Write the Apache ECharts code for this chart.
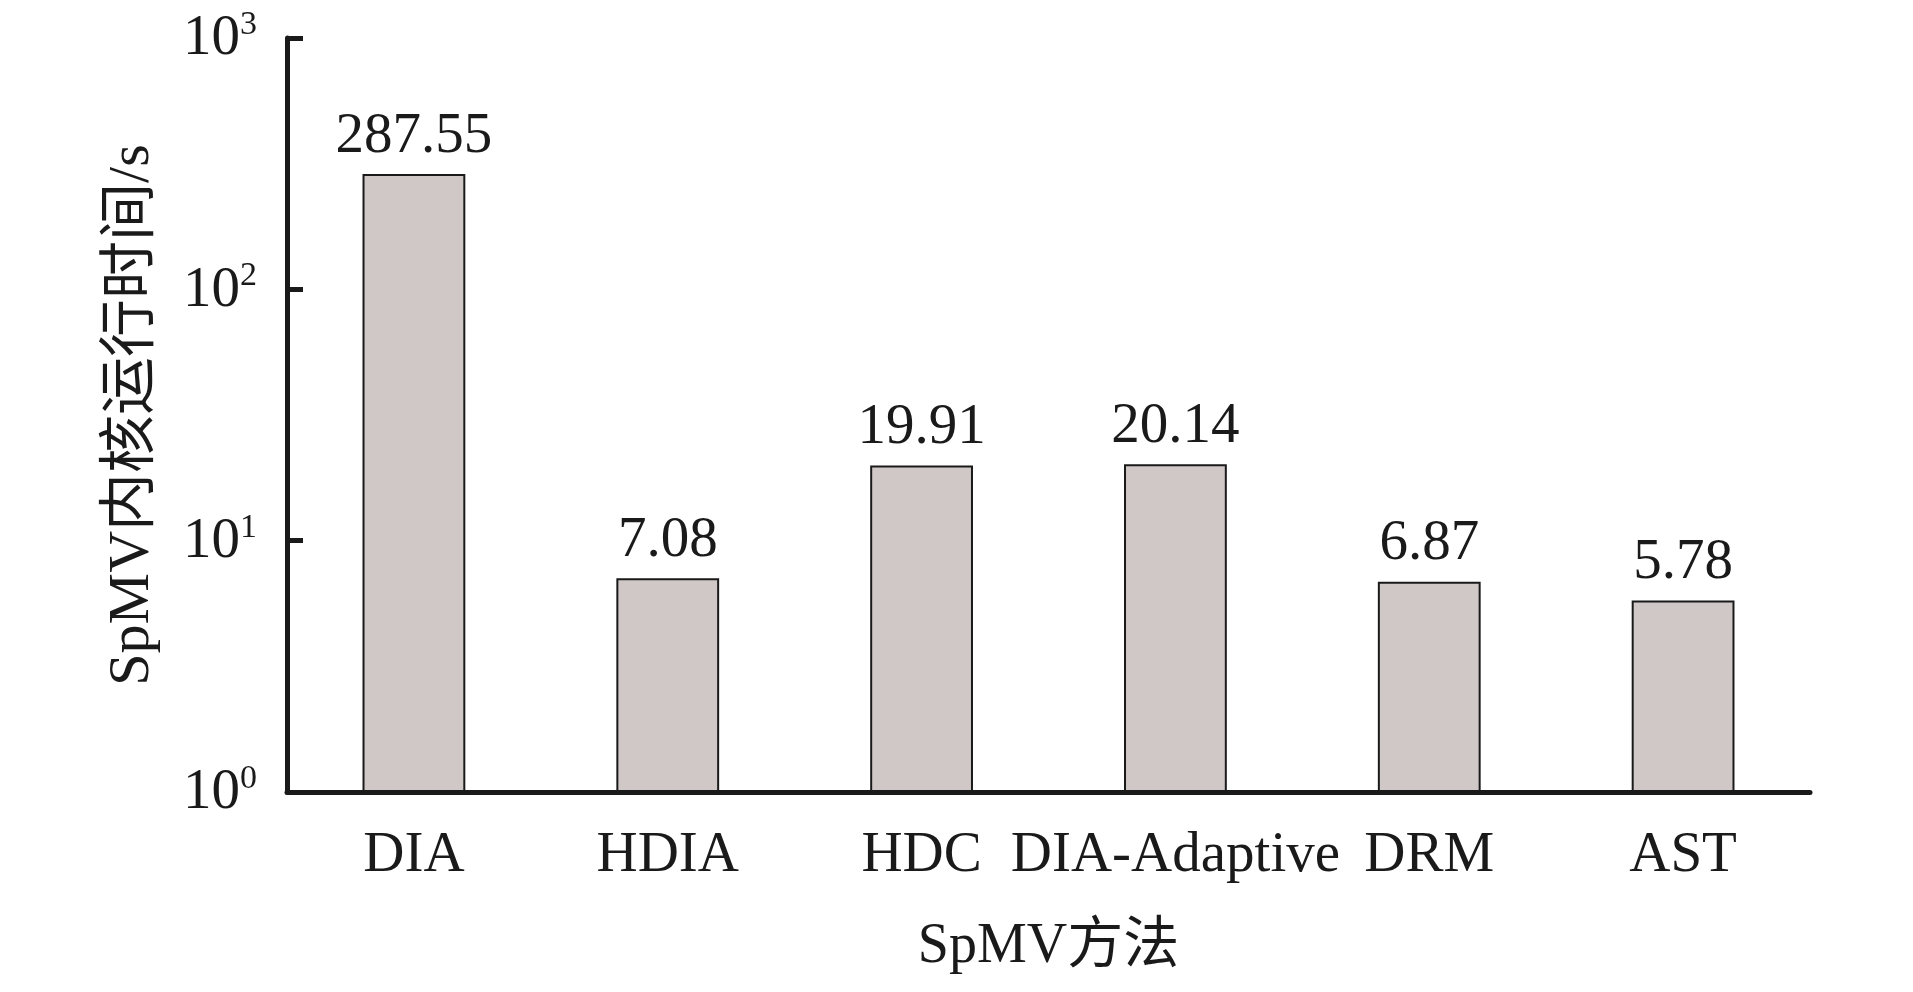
<!DOCTYPE html>
<html>
<head>
<meta charset="utf-8">
<script src="https://cdn.jsdelivr.net/npm/echarts@6/dist/echarts.min.js"></script>
<style>
html,body{margin:0;padding:0;background:#fff;}
#chart{width:1913px;height:992px;}
</style>
</head>
<body>
<div id="chart"></div>
<script>
const categories = ['DIA', 'HDIA', 'HDC', 'DIA-Adaptive', 'DRM', 'AST'];
const runTimes = [287.55, 7.08, 19.91, 20.14, 6.87, 5.78];
const yTickExponents = ['0', '1', '2', '3'];
const xAxisTitle = 'SpMV方法';
const yAxisTitle = 'SpMV内核运行时间/s';

const FONT = "'Liberation Serif', 'Noto Sans CJK SC', serif";
const INK = '#1a1a1a';

const chart = echarts.init(document.getElementById('chart'));
chart.setOption({
  animation: false,
  backgroundColor: '#fff',
  grid: { left: 287, right: 103, top: 38, bottom: 200, containLabel: false },
  xAxis: {
    type: 'category',
    data: categories,
    boundaryGap: true,
    name: xAxisTitle,
    nameLocation: 'middle',
    nameGap: 127,
    nameTextStyle: { fontFamily: FONT, fontSize: 56, color: INK },
    axisLine: { lineStyle: { color: INK, width: 5 } },
    axisTick: { show: false },
    axisLabel: { fontFamily: FONT, fontSize: 57, color: INK, margin: 36, interval: 0 },
    splitLine: { show: false }
  },
  yAxis: {
    type: 'log',
    logBase: 10,
    min: 1,
    max: 1000,
    interval: 1,
    name: yAxisTitle,
    nameLocation: 'middle',
    nameRotate: 90,
    nameGap: 125,
    nameTextStyle: { fontFamily: FONT, fontSize: 58, color: INK },
    axisLine: { show: true, lineStyle: { color: INK, width: 5 } },
    axisTick: { show: true, inside: true, length: 16, lineStyle: { color: INK, width: 5 } },
    minorTick: { show: false },
    splitLine: { show: false },
    axisLabel: {
      margin: 30,
      formatter: function (v) {
        const e = Math.round(Math.log10(v));
        return '{b|10}{s|' + yTickExponents[e] + '}';
      },
      rich: {
        b: { fontFamily: FONT, fontSize: 57, color: INK, lineHeight: 60, verticalAlign: 'bottom' },
        s: { fontFamily: FONT, fontSize: 34, color: INK, lineHeight: 60, verticalAlign: 'top', padding: [0, 0, 22, 0] }
      }
    }
  },
  series: [{
    type: 'bar',
    data: runTimes,
    barWidth: '40.5%',
    itemStyle: { color: '#d0c8c6', borderColor: INK, borderWidth: 2 },
    label: {
      show: true,
      position: 'top',
      distance: 9,
      fontFamily: FONT,
      fontSize: 57,
      color: INK,
      formatter: function (p) { return p.value.toFixed(2); }
    }
  }]
});
</script>
</body>
</html>
